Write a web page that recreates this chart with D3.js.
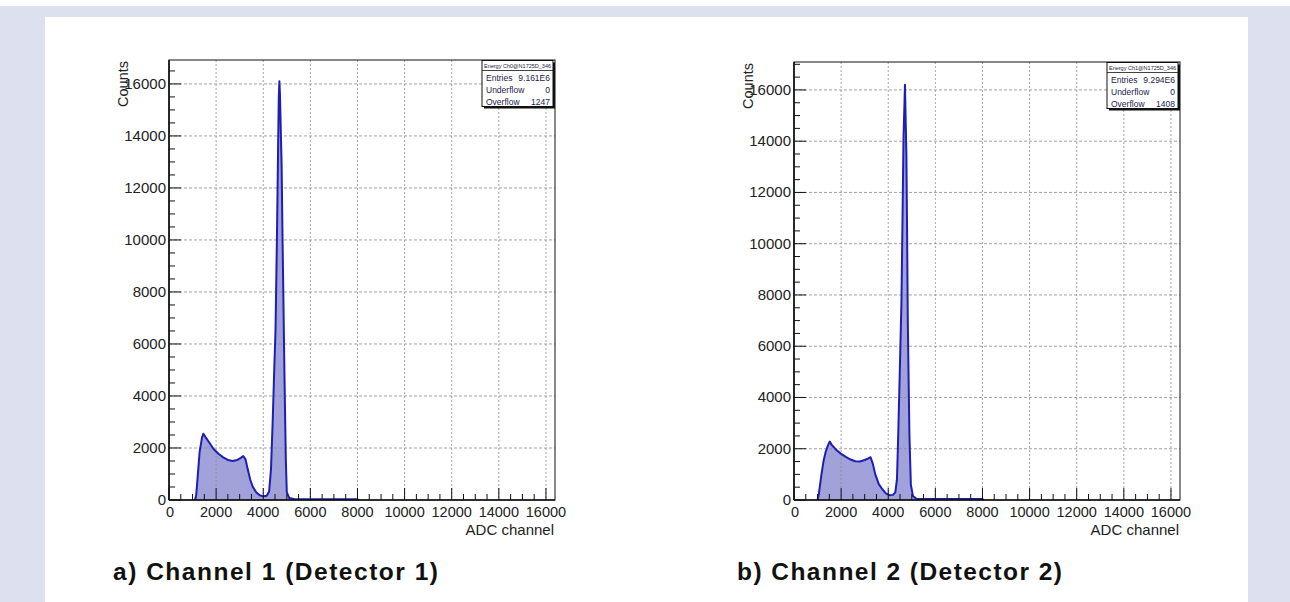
<!DOCTYPE html>
<html><head><meta charset="utf-8">
<script src="https://cdn.jsdelivr.net/npm/d3@7"></script>
<style>body{margin:0;background:#fff;} svg{display:block}</style>
</head><body><svg id="c" width="1290" height="602"></svg>
<script>
// ---------- data ----------
const xTicks = [0, 2000, 4000, 6000, 8000, 10000, 12000, 14000, 16000];
const yTicks = [0, 2000, 4000, 6000, 8000, 10000, 12000, 14000, 16000];

const ch1Channels = [1100,1150,1200,1300,1400,1460,1550,1700,1900,2100,2300,2500,2700,2900,3050,3150,3250,3350,3450,3550,3700,3850,4000,4150,4250,4330,4400,4460,4520,4580,4630,4660,4685,4710,4750,4780,4820,4850,4890,4920,4960,5000,5100,5300,8000,8050];
const ch1Counts   = [0,150,700,1850,2400,2550,2420,2220,1950,1780,1640,1540,1500,1540,1620,1690,1560,1150,780,520,300,180,140,160,330,1200,3000,4800,6500,10000,13500,15500,16100,15600,14000,12900,10000,8100,5500,3700,1500,300,80,40,30,0];

const ch2Channels = [1000,1050,1150,1250,1350,1450,1520,1600,1800,2000,2200,2400,2600,2800,3000,3150,3250,3350,3450,3600,3750,3900,4050,4200,4300,4370,4420,4490,4560,4620,4650,4690,4710,4740,4770,4800,4830,4860,4900,4960,5050,5200,8000,8050];
const ch2Counts   = [0,200,900,1500,1900,2150,2280,2150,1950,1800,1680,1580,1510,1500,1560,1620,1670,1400,1000,620,420,260,190,200,300,800,2400,5000,7700,12000,14200,15500,16200,14800,13500,10500,7000,5000,2500,600,150,50,40,0];

const statTitles = ["Energy Ch0@N1725D_346", "Energy Ch1@N1725D_346"];
const statLabels = ["Entries", "Underflow", "Overflow"];
const stat1Values = ["9.161E6", "0", "1247"];
const stat2Values = ["9.294E6", "0", "1408"];
const captions = ["a) Channel 1 (Detector 1)", "b) Channel 2 (Detector 2)"];
const xTitle = "ADC channel";
const yTitle = "Counts";

// ---------- drawing ----------
const svg = d3.select("#c");
const FONT = "'Liberation Sans', Arial, Helvetica, sans-serif";

svg.append("rect").attr("x",0).attr("y",6).attr("width",1290).attr("height",596).attr("fill","#dde0ee");
svg.append("rect").attr("x",45).attr("y",17).attr("width",1203).attr("height",585).attr("fill","#ffffff");

function panel(cfg){
  const g = svg.append("g");
  const x = d3.scaleLinear().domain([0,16384]).range([cfg.x0, cfg.x1]);
  const y = d3.scaleLinear().domain([0,cfg.ymax]).range([cfg.y1, cfg.y0]);
  const pts = cfg.ch.map((c,i)=>[c, cfg.cnt[i]]);

  // histogram fill
  g.append("path").datum(pts)
    .attr("d", d3.area().x(d=>x(d[0])).y0(y(0)).y1(d=>y(d[1])))
    .attr("fill","#a2a2da").attr("stroke","none");

  // grid
  const gridX = xTicks.filter(t=>t>0);
  const gridY = yTicks.filter(t=>t>0);
  g.selectAll(".gx").data(gridX).join("line")
    .attr("x1",d=>x(d)).attr("x2",d=>x(d)).attr("y1",cfg.y0).attr("y2",cfg.y1)
    .attr("stroke","#8c8c8c").attr("stroke-width",0.8).attr("stroke-dasharray","2,2");
  g.selectAll(".gy").data(gridY).join("line")
    .attr("x1",cfg.x0).attr("x2",cfg.x1).attr("y1",d=>y(d)).attr("y2",d=>y(d))
    .attr("stroke","#8c8c8c").attr("stroke-width",0.8).attr("stroke-dasharray","3,2");

  // histogram outline
  g.append("path").datum(pts)
    .attr("d", d3.line().x(d=>x(d[0])).y(d=>y(d[1])))
    .attr("fill","none").attr("stroke","#1e1eb4").attr("stroke-width",2).attr("stroke-linejoin","round");

  // frame
  g.append("rect").attr("x",cfg.x0).attr("y",cfg.y0).attr("width",cfg.x1-cfg.x0).attr("height",cfg.y1-cfg.y0)
    .attr("fill","none").attr("stroke","#111").attr("stroke-width",1);

  // x axis ticks (inside, upward)
  const xMinor = d3.range(0, 16384, 500);
  g.selectAll(".xt").data(xMinor).join("line")
    .attr("x1",d=>x(d)).attr("x2",d=>x(d)).attr("y1",cfg.y1)
    .attr("y2",d=> d%2000===0 ? cfg.y1-12 : cfg.y1-6)
    .attr("stroke","#111").attr("stroke-width",1);
  g.append("line").attr("x1",cfg.x0).attr("x2",cfg.x1).attr("y1",cfg.y1).attr("y2",cfg.y1)
    .attr("stroke","#111").attr("stroke-width",1.6);
  g.selectAll(".xl").data(xTicks).join("text")
    .attr("x",d=>x(d)+(d===0?1:0)).attr("y",cfg.y1+17)
    .attr("text-anchor","middle").attr("font-family",FONT).attr("font-size",14.5).attr("fill","#222")
    .text(d=>d);

  // y axis ticks (inside, rightward)
  const yMinor = d3.range(0, cfg.ymax, 500);
  g.selectAll(".yt").data(yMinor).join("line")
    .attr("y1",d=>y(d)).attr("y2",d=>y(d)).attr("x1",cfg.x0)
    .attr("x2",d=> d%2000===0 ? cfg.x0+12 : cfg.x0+6)
    .attr("stroke","#111").attr("stroke-width",1);
  g.append("line").attr("x1",cfg.x0).attr("x2",cfg.x0).attr("y1",cfg.y0).attr("y2",cfg.y1)
    .attr("stroke","#111").attr("stroke-width",1.6);
  g.selectAll(".yl").data(yTicks).join("text")
    .attr("x",cfg.x0-3).attr("y",d=>y(d)+5)
    .attr("text-anchor","end").attr("font-family",FONT).attr("font-size",15).attr("fill","#222")
    .text(d=>d);

  // axis titles
  g.append("text").attr("x",cfg.x1-1).attr("y",cfg.y1+35)
    .attr("text-anchor","end").attr("font-family",FONT).attr("font-size",15).attr("fill","#222")
    .text(xTitle);
  g.append("text")
    .attr("transform",`translate(${cfg.x0-41},${cfg.y0+1}) rotate(-90)`)
    .attr("text-anchor","end").attr("font-family",FONT).attr("font-size",14.5).attr("fill","#222")
    .text(yTitle);

  // stat box
  const bw = 71, bh = 46;
  const bx = cfg.x1 - bw - 2, by = cfg.y0 + 0.5;
  g.append("rect").attr("x",bx+2).attr("y",by+2).attr("width",bw).attr("height",bh).attr("fill","#111");
  g.append("rect").attr("x",bx).attr("y",by).attr("width",bw).attr("height",bh)
    .attr("fill","#fff").attr("stroke","#111").attr("stroke-width",1);
  g.append("line").attr("x1",bx).attr("x2",bx+bw).attr("y1",by+10).attr("y2",by+10)
    .attr("stroke","#111").attr("stroke-width",0.8);
  g.append("text").attr("x",bx+bw/2).attr("y",by+7.5).attr("text-anchor","middle")
    .attr("font-family",FONT).attr("font-size",5.5).attr("fill","#223")
    .text(cfg.title);
  statLabels.forEach((lab,i)=>{
    const ty = by + 20 + i*12;
    g.append("text").attr("x",bx+4).attr("y",ty).attr("font-family",FONT).attr("font-size",8.5)
      .attr("fill","#22244a").text(lab);
    g.append("text").attr("x",bx+bw-3).attr("y",ty).attr("text-anchor","end").attr("font-family",FONT)
      .attr("font-size",8.5).attr("fill","#22244a").text(cfg.stats[i]);
  });

  // caption
  g.append("text").attr("x",cfg.capX).attr("y",580)
    .attr("font-family",FONT).attr("font-weight","bold").attr("font-size",24.5).attr("fill","#111")
    .attr("textLength",325).attr("lengthAdjust","spacing")
    .text(cfg.caption);
}

panel({x0:169, x1:555, y0:60, y1:500, ymax:16920, ch:ch1Channels, cnt:ch1Counts,
       title:statTitles[0], stats:stat1Values, caption:captions[0], capX:113});
panel({x0:794, x1:1180, y0:62, y1:500, ymax:17090, ch:ch2Channels, cnt:ch2Counts,
       title:statTitles[1], stats:stat2Values, caption:captions[1], capX:737});
</script></body></html>
